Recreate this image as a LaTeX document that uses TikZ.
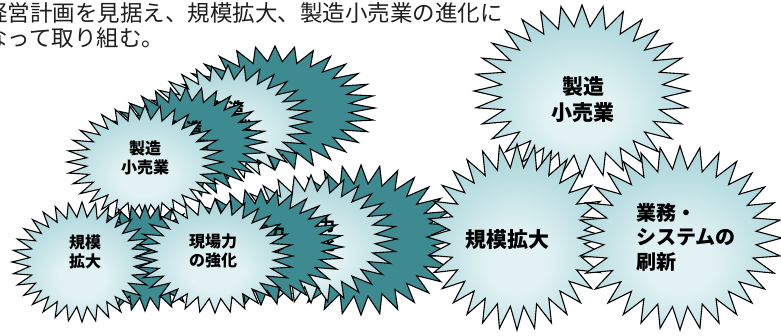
\documentclass[tikz,border=0pt]{standalone}
\usepackage{fontspec}
\setmainfont{Noto Sans CJK JP}
\definecolor{darkteal}{RGB}{61,139,144}
\definecolor{lightc}{RGB}{226,242,244}
\definecolor{edgec}{RGB}{132,193,199}
\definecolor{headc}{RGB}{30,30,30}
\pgfdeclareradialshading{starshade}{\pgfpoint{0bp}{-8bp}}{color(0bp)=(lightc); color(8bp)=(lightc); color(42bp)=(edgec); color(70bp)=(edgec)}
\newcommand{\burst}[5]{%
  \path[#5] ({#1},{#2-#4}) \foreach \k in {1,...,63}{ -- ({#1+#3*(1-0.25*mod(\k,2))*sin(\k*5.625)},{#2-#4*(1-0.25*mod(\k,2))*cos(\k*5.625)}) } -- cycle;
}
\tikzset{
  lightstar/.style={draw=black, line width=1.1pt, line join=miter, shading=starshade},
  darkstar/.style={draw=black, line width=1.1pt, line join=miter, fill=darkteal},
  lbl/.style={font=\bfseries\fontsize{16}{19}\selectfont, align=center, inner sep=0pt, text=black},
  biglbl/.style={font=\bfseries\fontsize{21}{26}\selectfont, align=center, inner sep=0pt, text=black},
  head/.style={font=\fontsize{22.5}{25}\selectfont, anchor=base west, inner sep=0pt, text=headc}
}
\begin{document}
\begin{tikzpicture}[x=1pt,y=-1pt]
\useasboundingbox (0,0) rectangle (781,336);
\clip (0,0) rectangle (781,336);
% heading
\node[head] (h1) at (-15,21.5) {経営計画を見据え、規模拡大、製造小売業の進化に};
\node[head] (h2) at (-15,46.5) {なって取り組む。};
% upper trail
\burst{275}{108}{100}{62}{darkstar}
\burst{228}{122}{83}{57}{lightstar}
\node[lbl] (g3) at (228,117.5) {製造\\小売業};
\burst{186}{142}{80}{55}{darkstar}
\node[lbl] (g2) at (186,137.5) {製造\\小売業};
\burst{145}{162}{78}{57}{lightstar}
\node[lbl] (s1) at (145,157.5) {製造\\小売業};
% lower trail
\burst{145}{258}{70}{53}{darkstar}
\burst{361}{240}{96}{75}{darkstar}
\burst{311}{239}{86}{64}{lightstar}
\node[lbl] (g5) at (311,234.5) {現場力\\の強化};
\burst{261}{247}{82}{58}{darkstar}
\node[lbl] (g4) at (261,241.5) {現場力\\の強化};
\burst{82}{262}{70}{60}{lightstar}
\node[lbl] (s2) at (85,252) {規模\\拡大};
\burst{215}{256}{78}{57}{lightstar}
\node[lbl] (s3) at (213,251) {現場力\\の強化};
% right big stars
\burst{582}{91}{108}{86}{lightstar}
\node[biglbl] (b1) at (583,100) {製造\\小売業};
\burst{517}{237}{90}{93}{lightstar}
\node[biglbl] (b2) at (507,240) {規模拡大};
\burst{680}{238}{102}{92}{lightstar}
\node[biglbl, anchor=west, align=left, font=\bfseries\fontsize{20}{24.5}\selectfont] (b3) at (636,237) {業務・\\システムの\\刷新};
\end{tikzpicture}
\end{document}
